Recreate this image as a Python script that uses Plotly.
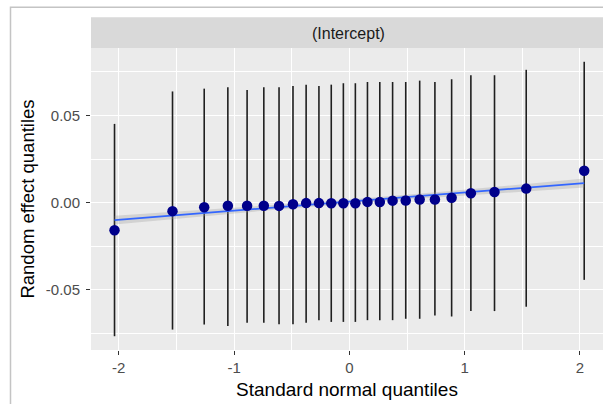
import numpy as np
import plotly.graph_objects as go

# ---- data ----
quantiles = [-2.037, -1.534, -1.259, -1.054, -0.887, -0.742, -0.610, -0.489,
             -0.375, -0.264, -0.157, -0.052, 0.052, 0.157, 0.264, 0.375,
             0.489, 0.610, 0.742, 0.887, 1.054, 1.259, 1.534, 2.037]
estimates = [-0.0158, -0.0048, -0.0026, -0.0017, -0.0017, -0.0017, -0.0018, -0.0009,
             -0.0002, -0.0002, -0.0003, -0.0003, -0.0003, 0.0005, 0.0004, 0.0012,
             0.0013, 0.0019, 0.0019, 0.0029, 0.0054, 0.0062, 0.0081, 0.0183]
upper = [0.0452, 0.0638, 0.0654, 0.0662, 0.0646, 0.0662, 0.0662, 0.0669,
         0.0677, 0.0669, 0.0677, 0.0685, 0.0685, 0.0692, 0.0692, 0.0692,
         0.0692, 0.0700, 0.0692, 0.0708, 0.0731, 0.0731, 0.0762, 0.0808]
lower = [-0.0765, -0.0727, -0.0698, -0.0706, -0.0688, -0.0688, -0.0696, -0.0696,
         -0.0688, -0.0673, -0.0683, -0.0683, -0.0683, -0.0673, -0.0673, -0.0673,
         -0.0665, -0.0665, -0.0646, -0.0652, -0.0621, -0.0621, -0.0596, -0.0442]
x_tickvals = [-2, -1, 0, 1, 2]
x_ticktext = ["-2", "-1", "0", "1", "2"]
y_tickvals = [-0.05, 0.0, 0.05]
y_ticktext = ["-0.05", "0.00", "0.05"]
strip_label = "(Intercept)"

x = np.array(quantiles)
y = np.array(estimates)

# linear fit with 95% confidence band (like geom_smooth(method="lm"))
slope, intercept = np.polyfit(x, y, 1)
n = len(x)
resid = y - (slope * x + intercept)
s = np.sqrt(np.sum(resid ** 2) / (n - 2))
sxx = np.sum((x - x.mean()) ** 2)
t975 = 2.0739  # t quantile, df = 22
xs = np.linspace(x.min(), x.max(), 80)
fit = slope * xs + intercept
se = s * np.sqrt(1.0 / n + (xs - x.mean()) ** 2 / sxx)
band_hi = fit + t975 * se
band_lo = fit - t975 * se

fig = go.Figure()

# error bars
fig.add_trace(go.Scatter(
    x=quantiles, y=estimates, mode="markers",
    marker=dict(size=1, opacity=0),
    error_y=dict(type="data", symmetric=False,
                 array=[u - e for u, e in zip(upper, estimates)],
                 arrayminus=[e - l for e, l in zip(estimates, lower)],
                 width=0, thickness=1.6, color="#1f1f1f"),
    hoverinfo="skip", showlegend=False))

# confidence band
fig.add_trace(go.Scatter(
    x=np.concatenate([xs, xs[::-1]]), y=np.concatenate([band_hi, band_lo[::-1]]),
    fill="toself", fillcolor="rgba(153,153,153,0.3)", line=dict(width=0),
    mode="lines", hoverinfo="skip", showlegend=False))

# fitted line
fig.add_trace(go.Scatter(
    x=xs, y=fit, mode="lines", line=dict(color="#3366FF", width=1.8),
    hoverinfo="skip", showlegend=False))

# points
fig.add_trace(go.Scatter(
    x=quantiles, y=estimates, mode="markers",
    marker=dict(size=10.5, color="#00008B", line=dict(width=0)),
    showlegend=False))

W, H = 603, 404
ml, mr, mt, mb = 91, 0, 48, 54
pw, ph = W - ml - mr, H - mt - mb


def px_x(p):
    return (p - ml) / pw


def px_y(p):
    return (H - mb - p) / ph


fig.update_layout(
    width=W, height=H,
    margin=dict(l=ml, r=mr, t=mt, b=mb, autoexpand=False),
    paper_bgcolor="white", plot_bgcolor="#EBEBEB",
    font=dict(family="Liberation Sans, Arial, sans-serif"),
    xaxis=dict(range=[-2.241, 2.2], tickvals=x_tickvals, ticktext=x_ticktext,
               automargin=False,
               showgrid=True, gridcolor="white", gridwidth=1.3,
               minor=dict(dtick=0.5, tick0=0, showgrid=True, gridcolor="white",
                          gridwidth=0.6, ticks=""),
               zeroline=False, showline=False,
               ticks="outside", ticklen=4, tickwidth=1.1, tickcolor="#333333",
               tickfont=dict(size=15, color="#4D4D4D"),
               title=dict(text="Standard normal quantiles",
                          font=dict(size=19, color="black"), standoff=7)),
    yaxis=dict(range=[-0.0844, 0.0887], tickvals=y_tickvals, ticktext=y_ticktext,
               automargin=False, ticklabelstandoff=3,
               showgrid=True, gridcolor="white", gridwidth=1.3,
               minor=dict(dtick=0.025, tick0=0, showgrid=True, gridcolor="white",
                          gridwidth=0.6, ticks=""),
               zeroline=False, showline=False,
               ticks="outside", ticklen=4, tickwidth=1.1, tickcolor="#333333",
               tickfont=dict(size=15, color="#4D4D4D"),
               title=dict(text="Random effect quantiles",
                          font=dict(size=18.5, color="black"), standoff=6)),
    shapes=[
        # facet strip
        dict(type="rect", xref="paper", yref="paper",
             x0=0, x1=1.05, y0=1, y1=px_y(17.3),
             fillcolor="#D9D9D9", line=dict(width=0), layer="below"),
        # outer frame (screenshot border)
        dict(type="path", xref="paper", yref="paper",
             path=f"M {px_x(10.5)} {px_y(420)} L {px_x(10.5)} {px_y(7.3)} L {px_x(620)} {px_y(7.3)}",
             line=dict(color="#C4C4C4", width=1.5)),
    ],
    annotations=[
        dict(text=strip_label, xref="paper", yref="paper",
             x=px_x(348.5), y=px_y(33), xanchor="center", yanchor="middle",
             showarrow=False, font=dict(size=16, color="#1A1A1A")),
    ],
)

fig.write_html("out.html", config={"displayModeBar": False},
               post_script="document.body.style.margin='0';document.body.style.overflow='hidden';")
